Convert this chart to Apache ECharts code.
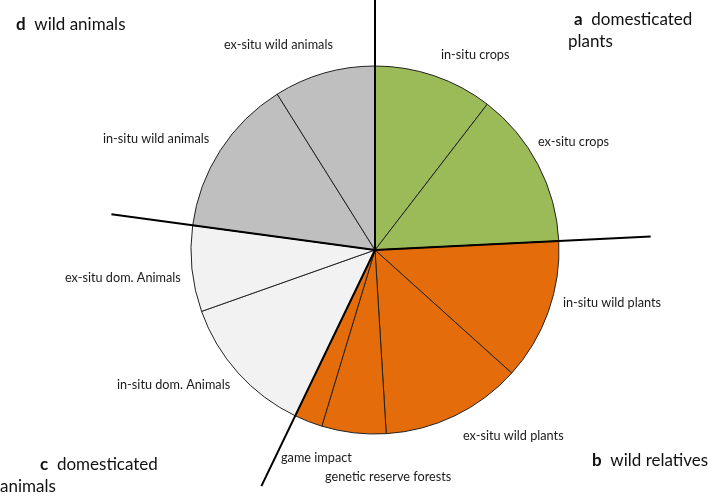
<!DOCTYPE html>
<html>
<head>
<meta charset="UTF-8">
<title>pie</title>
<script src="https://cdn.jsdelivr.net/npm/echarts@6/dist/echarts.min.js"></script>
<style>
  html, body { margin: 0; padding: 0; background: #fff; }
  #main { width: 708px; height: 496px; }
</style>
</head>
<body>
<div id="main"></div>
<script>
// slice names and sizes (degrees of the circle)
var names = ['in-situ crops', 'ex-situ crops', 'in-situ wild plants', 'ex-situ wild plants',
  'genetic reserve forests', 'game impact', 'in-situ dom. Animals', 'ex-situ dom. Animals',
  'in-situ wild animals', 'ex-situ wild animals'];
var values = [37.6, 49.6, 44.8, 44.5, 20.3, 8.9, 44.8, 27.2, 50.2, 32.1];
var groups = ['a', 'a', 'b', 'b', 'b', 'b', 'c', 'c', 'd', 'd'];
var groupColors = { a: '#9BBB59', b: '#E46C0A', c: '#F2F2F2', d: '#BFBFBF' };

// label anchor points (left, middle)
var labelPos = [[441, 55], [538, 142], [563, 303], [463, 436], [325, 477],
  [281, 458], [117, 385], [65, 278], [103, 139], [224, 45]];

var cx = 375, cy = 250, R = 184;
var total = values.reduce(function (a, b) { return a + b; }, 0);

// quadrant separators: start of each group, extended outward
var sepIdx = [0, 2, 6, 8];
var sepLen = [250, 276, 262, 266];
var cum = [0];
for (var i = 0; i < values.length; i++) cum.push(cum[i] + values[i]);

var graphics = [];
sepIdx.forEach(function (idx, k) {
  var a = cum[idx] / total * Math.PI * 2; // clockwise from 12 o'clock
  graphics.push({
    type: 'line', z: 100,
    shape: { x1: cx, y1: cy, x2: cx + Math.sin(a) * sepLen[k], y2: cy - Math.cos(a) * sepLen[k] },
    style: { stroke: '#000', lineWidth: 2 }
  });
});

function title(x, y, letter, word) {
  graphics.push({
    type: 'text', left: x, top: y, z: 100,
    style: {
      text: '{l|' + letter + '}  ' + word,
      font: '17px Lato', fill: '#111',
      rich: { l: { font: 'bold 17px Lato', fill: '#111' } }
    }
  });
}
title(16, 16, 'd', 'wild animals');
title(574, 11, 'a', 'domesticated');
graphics.push({ type: 'text', left: 568, top: 33, z: 100, style: { text: 'plants', font: '17px Lato', fill: '#111' } });
title(592, 452, 'b', 'wild relatives');
title(40, 456, 'c', 'domesticated');
graphics.push({ type: 'text', left: 0, top: 478, z: 100, style: { text: 'animals', font: '17px Lato', fill: '#111' } });

var myChart = echarts.init(document.getElementById('main'));
myChart.setOption({
  animation: false,
  graphic: graphics,
  series: [{
    type: 'pie',
    center: [cx, cy],
    radius: R,
    startAngle: 90,
    clockwise: true,
    avoidLabelOverlap: false,
    data: names.map(function (n, i) {
      return { name: n, value: values[i], itemStyle: { color: groupColors[groups[i]] } };
    }),
    itemStyle: { borderColor: '#222', borderWidth: 1 },
    emphasis: { disabled: true },
    label: { show: true, position: 'outside', formatter: '{b}', color: '#1a1a1a', fontFamily: 'Lato', fontSize: 12.7 },
    labelLine: { show: false },
    labelLayout: function (p) {
      var pos = labelPos[p.dataIndex];
      return { x: pos[0], y: pos[1], align: 'left', verticalAlign: 'middle' };
    }
  }]
});
</script>
</body>
</html>
